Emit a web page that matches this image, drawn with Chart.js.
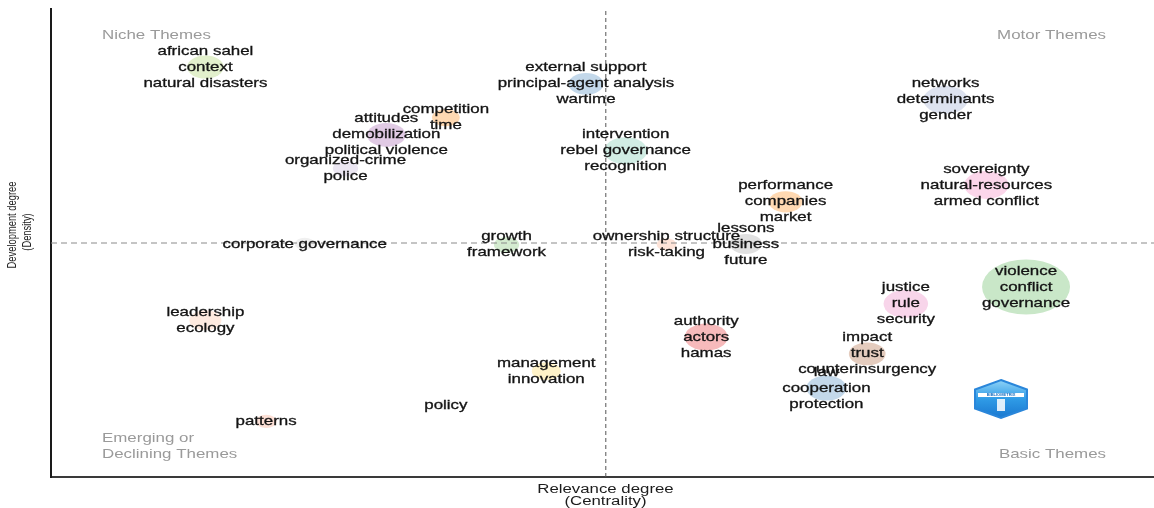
<!DOCTYPE html>
<html>
<head>
<meta charset="utf-8">
<style>
  html, body { margin: 0; padding: 0; background: #ffffff; }
  #wrap { width: 1154px; height: 508px; position: relative; }
</style>
<script src="https://cdn.jsdelivr.net/npm/chart.js@4.4.0/dist/chart.umd.min.js"></script>
</head>
<body>
<div id="wrap"><canvas id="chart" width="1154" height="508"></canvas></div>
<script>
// ---------------- data ----------------
const clusterWords = [
  ["african sahel", "context", "natural disasters"],
  ["external support", "principal-agent analysis", "wartime"],
  ["competition", "time"],
  ["attitudes", "demobilization", "political violence"],
  ["organized-crime", "police"],
  ["intervention", "rebel governance", "recognition"],
  ["networks", "determinants", "gender"],
  ["sovereignty", "natural-resources", "armed conflict"],
  ["performance", "companies", "market"],
  ["lessons", "business", "future"],
  ["ownership structure", "risk-taking"],
  ["growth", "framework"],
  ["corporate governance"],
  ["leadership", "ecology"],
  ["patterns"],
  ["policy"],
  ["management", "innovation"],
  ["authority", "actors", "hamas"],
  ["justice", "rule", "security"],
  ["violence", "conflict", "governance"],
  ["impact", "trust", "counterinsurgency"],
  ["law", "cooperation", "protection"]
];
// relevance degree (centrality), relative scale 0-100
const centrality = [14.0, 48.5, 35.8, 30.4, 26.7, 52.1, 81.1, 84.8, 66.6, 63.0, 55.8, 41.3, 23.0, 14.0, 19.5, 35.8, 44.9, 59.4, 77.5, 88.4, 74.0, 70.3];
// development degree (density), relative scale 0-100
const density    = [87.6, 84.0, 76.8, 73.1, 65.9, 69.7, 80.6, 62.4, 58.8, 49.8, 49.7, 49.6, 49.8, 33.5, 11.9, 15.4, 22.6, 29.9, 37.0, 40.6, 26.3, 19.0];
// cluster frequency (bubble size)
const frequency  = [21, 19, 12, 23, 10, 29, 31, 31, 18, 16, 6, 10, 6, 16, 7, 4, 13, 29, 31, 121, 21, 25];
const clusterColors = ["#e2f0cc", "#c3d8ea", "#ffd9b2", "#e0cae4", "#ebe6f2", "#d1ede4", "#dde2ef", "#fbd6ea",
                       "#ffd9b2", "#e0e0e0", "#fde3d8", "#d4ebd0", "#f0f0f0", "#feeadf", "#fde0d6", "#f2f2f2",
                       "#fff3c8", "#f7babb", "#f8d5ea", "#c9e7c8", "#e4ccbe", "#c3d8ea"];
const centralityCut = 50.3;   // vertical dashed reference line
const densityCut = 50.0;      // horizontal dashed reference line
const quadrantNames = ["Niche Themes", "Motor Themes", "Emerging or", "Declining Themes", "Basic Themes"];
const xTitleLines = ["Relevance degree", "(Centrality)"];
const yTitleLines = ["Development degree", "(Density)"];

// ---------------- styling helpers ----------------
const TEXT_FONT = '"Liberation Sans", Arial, Helvetica, sans-serif';
const STRETCH = 1.3;       // horizontal text stretch
const ELLIPSE = 1.6;       // horizontal bubble stretch
const LINE_GAP = 16;
const radiusOf = f => 2.5 * Math.sqrt(f);

function stretchedText(ctx, text, x, y, size, color, align, sx, stroke) {
  ctx.save();
  ctx.translate(x, y);
  ctx.scale(sx, 1);
  ctx.font = size + 'px ' + TEXT_FONT;
  ctx.fillStyle = color;
  ctx.textAlign = align;
  ctx.textBaseline = 'middle';
  ctx.fillText(text, 0, 0);
  if (stroke) {
    ctx.lineWidth = stroke;
    ctx.strokeStyle = color;
    ctx.strokeText(text, 0, 0);
  }
  ctx.restore();
}

const bubbleDatasets = clusterWords.map((words, i) => ({
  type: 'bubble',
  label: words.join(' / '),
  data: [{ x: centrality[i], y: density[i], r: radiusOf(frequency[i]) }],
  backgroundColor: clusterColors[i],
  borderWidth: 0,
  hoverRadius: 0,
  clip: false,
  order: 1
}));

const lineDatasets = [
  {
    type: 'line', label: 'density cut',
    data: [{ x: 0, y: densityCut }, { x: 100, y: densityCut }],
    borderColor: '#8a8a8a', borderWidth: 1, borderDash: [6, 4],
    pointRadius: 0, fill: false, order: 0
  },
  {
    type: 'line', label: 'centrality cut',
    data: [{ x: centralityCut, y: 0 }, { x: centralityCut, y: 100 }],
    borderColor: '#555555', borderWidth: 1, borderDash: [4, 3],
    pointRadius: 0, fill: false, order: 0
  }
];

const ellipsePlugin = {
  id: 'ellipse',
  beforeDatasetDraw(chart, args) {
    const ds = chart.data.datasets[args.index];
    if (ds.type !== 'bubble') return;
    const el = args.meta.data[0];
    const ctx = chart.ctx;
    ctx.save();
    ctx.translate(el.x, 0);
    ctx.scale(ELLIPSE, 1);
    ctx.translate(-el.x, 0);
  },
  afterDatasetDraw(chart, args) {
    const ds = chart.data.datasets[args.index];
    if (ds.type !== 'bubble') return;
    chart.ctx.restore();
  }
};

const textPlugin = {
  id: 'texts',
  afterDraw(chart) {
    const ctx = chart.ctx;
    const xs = chart.scales.x, ys = chart.scales.y;
    const a = chart.chartArea;
    // cluster labels
    clusterWords.forEach((words, i) => {
      const px = xs.getPixelForValue(centrality[i]);
      const py = ys.getPixelForValue(density[i]);
      const n = words.length;
      words.forEach((w, j) => {
        stretchedText(ctx, w, px, py + (j - (n - 1) / 2) * LINE_GAP, 13, '#141414', 'center', STRETCH, 0.3);
      });
    });
    // quadrant names
    const qc = '#9a9a9a';
    stretchedText(ctx, quadrantNames[0], a.left + 51, a.top + 26, 13, qc, 'left', STRETCH);
    stretchedText(ctx, quadrantNames[1], a.right - 48, a.top + 26, 13, qc, 'right', STRETCH);
    stretchedText(ctx, quadrantNames[2], a.left + 51, a.bottom - 39, 13, qc, 'left', STRETCH);
    stretchedText(ctx, quadrantNames[3], a.left + 51, a.bottom - 23, 13, qc, 'left', STRETCH);
    stretchedText(ctx, quadrantNames[4], a.right - 48, a.bottom - 23, 13, qc, 'right', STRETCH);
    // x axis title
    const cx = (a.left + a.right) / 2 + 3;
    stretchedText(ctx, xTitleLines[0], cx, a.bottom + 12.5, 12, '#1c1c1c', 'center', 1.4);
    stretchedText(ctx, xTitleLines[1], cx, a.bottom + 25, 12, '#1c1c1c', 'center', 1.4);
    // y axis title (rotated, narrow)
    const yt = [[yTitleLines[0], 13, 225], [yTitleLines[1], 28, 232]];
    yt.forEach(([t, x, y]) => {
      ctx.save();
      ctx.translate(x, y);
      ctx.rotate(-Math.PI / 2);
      ctx.scale(0.78, 1);
      ctx.font = '12px ' + TEXT_FONT;
      ctx.fillStyle = '#1c1c1c';
      ctx.textAlign = 'center';
      ctx.textBaseline = 'middle';
      ctx.fillText(t, 0, 0);
      ctx.restore();
    });
    // watermark logo (hexagon)
    const lx = a.right - 153, ly = a.bottom - 78, hw = 26, hh = 19;
    ctx.save();
    ctx.beginPath();
    ctx.moveTo(lx, ly - hh);
    ctx.lineTo(lx + hw, ly - hh / 2);
    ctx.lineTo(lx + hw, ly + hh / 2);
    ctx.lineTo(lx, ly + hh);
    ctx.lineTo(lx - hw, ly + hh / 2);
    ctx.lineTo(lx - hw, ly - hh / 2);
    ctx.closePath();
    const g = ctx.createLinearGradient(0, ly - hh, 0, ly + hh);
    g.addColorStop(0, '#8fd3f7');
    g.addColorStop(0.5, '#2f9be6');
    g.addColorStop(1, '#1a78d0');
    ctx.fillStyle = g;
    ctx.fill();
    ctx.lineWidth = 2;
    ctx.strokeStyle = '#2a86da';
    ctx.stroke();
    ctx.fillStyle = '#ffffff';
    ctx.fillRect(lx - hw + 3, ly - 6, 2 * hw - 6, 4);
    ctx.font = 'bold 4px ' + TEXT_FONT;
    ctx.fillStyle = '#1a6fc0';
    ctx.textAlign = 'center';
    ctx.textBaseline = 'middle';
    ctx.fillText('BIBLIOMETRIX', lx, ly - 4);
    ctx.fillStyle = 'rgba(255,255,255,0.85)';
    ctx.fillRect(lx - 4, ly, 8, 12);
    ctx.restore();
  }
};

new Chart(document.getElementById('chart'), {
  type: 'bubble',
  data: { datasets: [...bubbleDatasets, ...lineDatasets] },
  options: {
    responsive: false,
    animation: false,
    devicePixelRatio: 1,
    events: [],
    layout: { autoPadding: false, padding: { left: 51, right: 0, top: 9, bottom: 31 } },
    plugins: { legend: { display: false }, tooltip: { enabled: false } },
    scales: {
      x: {
        type: 'linear', min: 0, max: 100,
        grid: { display: false, drawTicks: false },
        ticks: { display: false },
        border: { display: true, color: '#3a3a3a', width: 2 }
      },
      y: {
        type: 'linear', min: 0, max: 100,
        grid: { display: false, drawTicks: false },
        ticks: { display: false },
        border: { display: true, color: '#1a1a1a', width: 2 }
      }
    }
  },
  plugins: [ellipsePlugin, textPlugin]
});
</script>
</body>
</html>
